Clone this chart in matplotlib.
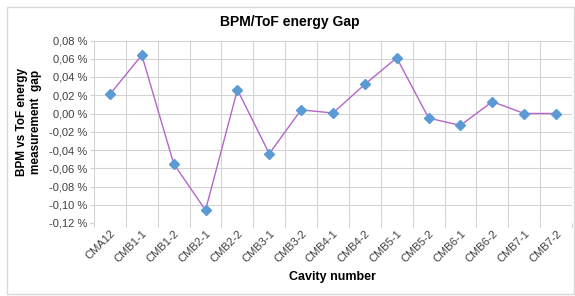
import matplotlib
matplotlib.use('Agg')
import matplotlib.pyplot as plt
from matplotlib.patches import Rectangle
from matplotlib.ticker import FuncFormatter

plt.rcParams['font.family'] = ['Liberation Sans', 'DejaVu Sans']

# données (en %)
cavities = ['CMA12', 'CMB1-1', 'CMB1-2', 'CMB2-1', 'CMB2-2', 'CMB3-1', 'CMB3-2',
            'CMB4-1', 'CMB4-2', 'CMB5-1', 'CMB5-2', 'CMB6-1', 'CMB6-2', 'CMB7-1', 'CMB7-2']
gap = [0.021, 0.064, -0.055, -0.106, 0.026, -0.044, 0.004,
       0.0005, 0.032, 0.061, -0.005, -0.013, 0.013, 0.0, 0.0]
yticks = [-0.12, -0.10, -0.08, -0.06, -0.04, -0.02, 0.0, 0.02, 0.04, 0.06, 0.08]

fig = plt.figure(figsize=(5.75, 2.96), dpi=100)
# cadre gris autour du graphique
fig.patches.append(Rectangle((7 / 575, 2 / 296), 567 / 575, 287 / 296, transform=fig.transFigure,
                             fill=False, edgecolor='#d9d9d9', linewidth=1.0))

ax = fig.add_axes([94 / 575, (296 - 223) / 296, (572 - 94) / 575, (223 - 40.5) / 296])
x = list(range(len(cavities)))
ax.plot(x, gap, color='#b565c9', linewidth=1.0, marker='D', markersize=5,
        markerfacecolor='#5b9bd5', markeredgecolor='#5b9bd5', zorder=3)

ax.set_xlim(-0.5, len(cavities) - 0.5)
ax.set_ylim(-0.12, 0.08)
ax.set_yticks(yticks)
ax.yaxis.set_major_formatter(FuncFormatter(lambda v, p: ('%.2f %%' % v).replace('.', ',')))
ax.set_xticks([i - 0.5 for i in range(len(cavities) + 1)], minor=False)
ax.set_xticklabels([])
ax.set_xticks(x, minor=True)
ax.set_xticklabels(cavities, minor=True, rotation=45, ha='right', va='top',
                   rotation_mode='anchor', fontsize=8, color='#404040')
ax.tick_params(axis='x', which='minor', length=0, pad=4)
ax.tick_params(axis='x', which='major', length=3, color='#d0d0d0')
ax.tick_params(axis='y', length=3, color='#d0d0d0', labelsize=8, labelcolor='#404040', pad=2)
ax.grid(True, which='major', color='#d4d4d4', linewidth=0.8)
for s in ax.spines.values():
    s.set_visible(False)
ax.set_axisbelow(True)

fig.text(290 / 575, 1 - 22 / 296, 'BPM/ToF energy Gap', ha='center', va='center',
         fontsize=10, fontweight='bold')
fig.text(29 / 575, 1 - 122 / 296, 'BPM vs ToF energy\nmeasurement  gap', ha='center', va='center',
         rotation=90, fontsize=8.5, fontweight='bold', linespacing=1.25)
fig.text(332 / 575, 1 - 277 / 296, 'Cavity number', ha='center', va='center',
         fontsize=9, fontweight='bold')

fig.savefig('out.png', dpi=100)
